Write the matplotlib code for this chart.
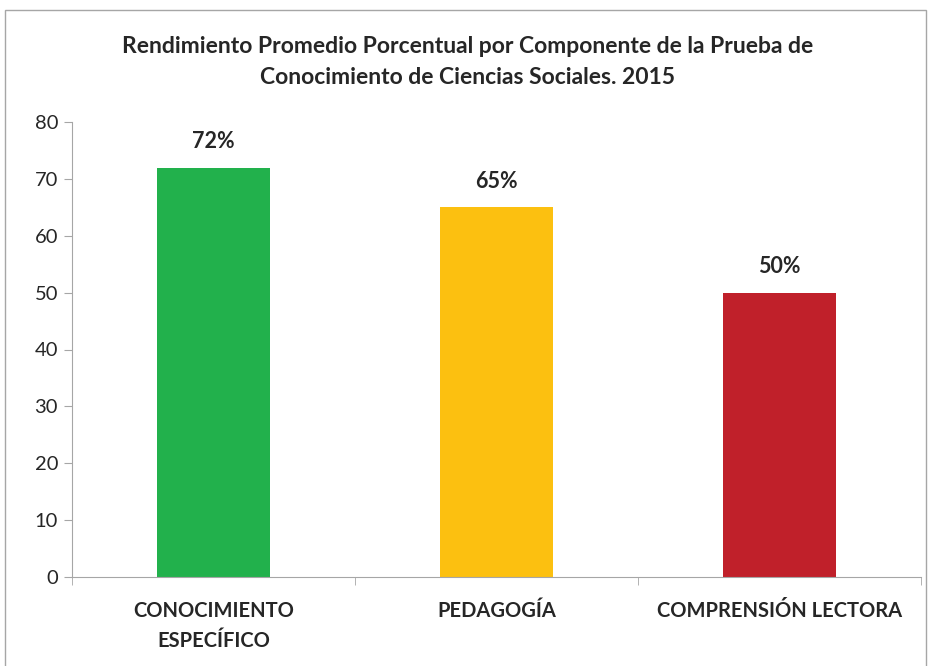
import matplotlib.pyplot as plt
from matplotlib.patches import Rectangle

categories = ["CONOCIMIENTO\nESPECÍFICO", "PEDAGOGÍA", "COMPRENSIÓN LECTORA"]
values = [72, 65, 50]
labels = ["72%", "65%", "50%"]
colors = ["#22B14C", "#FCC010", "#C0202A"]
title = ("Rendimiento Promedio Porcentual por Componente de la Prueba de\n"
         "Conocimiento de Ciencias Sociales. 2015")

plt.rcParams["font.family"] = ["Lato", "DejaVu Sans"]

W, H = 935, 666
fig = plt.figure(figsize=(W / 100, H / 100), dpi=100)
ax = fig.add_axes([72 / W, 1 - 577 / H, (921 - 72) / W, (577 - 122) / H])

x = range(len(values))
ax.bar(x, values, width=0.4, color=colors)
for xi, v, lab in zip(x, values, labels):
  ax.annotate(lab, (xi, v), xytext=(0, 11), textcoords="offset points",
              ha="center", va="bottom", fontsize=15.5, fontweight="bold",
              color="#262626")

ax.set_xlim(-0.5, len(values) - 0.5)
ax.set_ylim(0, 80)
ax.set_yticks(range(0, 81, 10))
ax.set_xticks([])
ax.set_xticks([-0.5, 0.5, 1.5, 2.5], minor=True)
ax.tick_params(axis="x", which="minor", length=6, color="#A6A6A6")
ax.tick_params(axis="y", length=6, color="#A6A6A6", labelsize=14.5,
               labelcolor="#262626", pad=4)
for xi, c in zip(x, categories):
  ax.text(xi, -0.052, c, transform=ax.get_xaxis_transform(), ha="center",
          va="top", fontsize=14.5, fontweight="bold", color="#262626",
          linespacing=1.65)

for s in ["top", "right"]:
  ax.spines[s].set_visible(False)
for s in ["left", "bottom"]:
  ax.spines[s].set_color("#A6A6A6")

fig.text(0.5, 1 - 62 / H, title, ha="center", va="center", fontsize=16.5,
         fontweight="bold", color="#262626", linespacing=1.6)

fig.patches.append(Rectangle((5 / W, -0.05), 921 / W, 1.05 - 10 / H,
                             transform=fig.transFigure, fill=False,
                             edgecolor="#A6A6A6", linewidth=1))

fig.savefig("out.png", dpi=100)
